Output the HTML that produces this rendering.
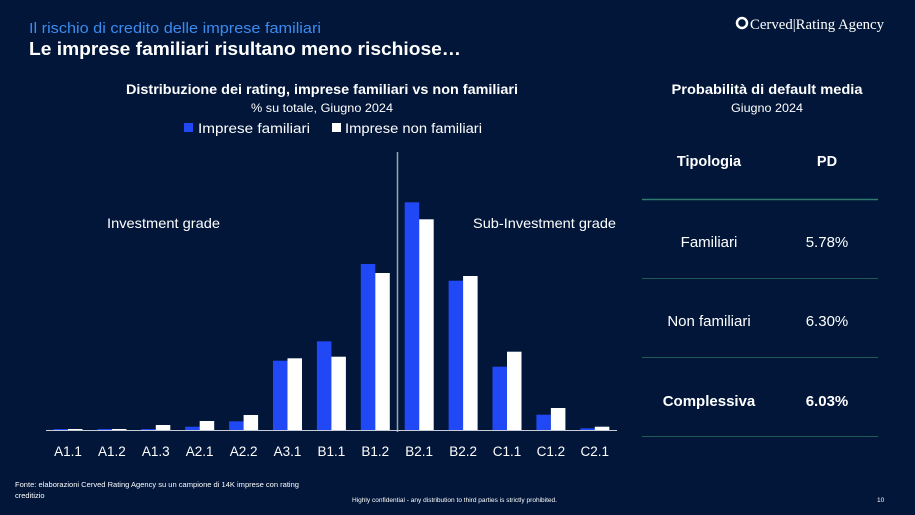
<!DOCTYPE html>
<html><head><meta charset="utf-8"><style>
html,body{margin:0;padding:0;background:#011639;}
svg{display:block}
text{font-family:"Liberation Sans",sans-serif;}
</style></head><body>
<svg width="915" height="515" viewBox="0 0 915 515" xmlns="http://www.w3.org/2000/svg">
<rect width="915" height="515" fill="#011639"/>
<text x="29" y="33" font-size="15" fill="#3b8cf0" textLength="292" lengthAdjust="spacingAndGlyphs">Il rischio di credito delle imprese familiari</text>
<text x="29" y="55" font-size="18" font-weight="bold" fill="#fff" textLength="432" lengthAdjust="spacingAndGlyphs">Le imprese familiari risultano meno rischiose…</text>
<circle cx="742" cy="23" r="5" fill="none" stroke="#fff" stroke-width="2.5"/>
<text x="750" y="29" font-size="15" fill="#fff" style="font-family:'Liberation Serif',serif" textLength="134" lengthAdjust="spacingAndGlyphs">Cerved|Rating Agency</text>

<text x="322" y="94" font-size="13.5" font-weight="bold" fill="#fff" text-anchor="middle" textLength="392" lengthAdjust="spacingAndGlyphs">Distribuzione dei rating, imprese familiari vs non familiari</text>
<text x="322" y="112" font-size="12" fill="#fff" text-anchor="middle" textLength="142" lengthAdjust="spacingAndGlyphs">% su totale, Giugno 2024</text>
<rect x="184" y="123" width="9" height="9" fill="#2148f5"/>
<text x="198" y="133" font-size="13.5" fill="#fff" textLength="112" lengthAdjust="spacingAndGlyphs">Imprese familiari</text>
<rect x="332" y="123" width="9" height="9" fill="#fff"/>
<text x="345" y="133" font-size="13.5" fill="#fff" textLength="137" lengthAdjust="spacingAndGlyphs">Imprese non familiari</text>

<text x="107" y="228" font-size="14" fill="#fff" textLength="113" lengthAdjust="spacingAndGlyphs">Investment grade</text>
<text x="473" y="228" font-size="14" fill="#fff" textLength="143" lengthAdjust="spacingAndGlyphs">Sub-Investment grade</text>

<line x1="397.5" y1="152" x2="397.5" y2="432" stroke="#9aa3b5" stroke-width="1.5"/>
<g id="bars">
<rect x="53.5" y="429" width="14.5" height="1" fill="#2148f5"/><rect x="68" y="429" width="14.5" height="1" fill="#fff"/>
<rect x="97.4" y="429" width="14.5" height="1" fill="#2148f5"/><rect x="111.9" y="429" width="14.5" height="1" fill="#fff"/>
<rect x="141.3" y="429" width="14.5" height="1" fill="#2148f5"/><rect x="155.8" y="425" width="14.5" height="5" fill="#fff"/>
<rect x="185.2" y="426.7" width="14.5" height="3.3" fill="#2148f5"/><rect x="199.7" y="421" width="14.5" height="9" fill="#fff"/>
<rect x="229.1" y="421.3" width="14.5" height="8.7" fill="#2148f5"/><rect x="243.6" y="415" width="14.5" height="15" fill="#fff"/>
<rect x="273" y="360.7" width="14.5" height="69.3" fill="#2148f5"/><rect x="287.5" y="358.3" width="14.5" height="71.7" fill="#fff"/>
<rect x="316.9" y="341.3" width="14.5" height="88.7" fill="#2148f5"/><rect x="331.4" y="356.7" width="14.5" height="73.3" fill="#fff"/>
<rect x="360.8" y="264" width="14.5" height="166" fill="#2148f5"/><rect x="375.3" y="273" width="14.5" height="157" fill="#fff"/>
<rect x="404.7" y="202.3" width="14.5" height="227.7" fill="#2148f5"/><rect x="419.2" y="219.3" width="14.5" height="210.7" fill="#fff"/>
<rect x="448.6" y="280.7" width="14.5" height="149.3" fill="#2148f5"/><rect x="463.1" y="276" width="14.5" height="154" fill="#fff"/>
<rect x="492.5" y="366.7" width="14.5" height="63.3" fill="#2148f5"/><rect x="507" y="351.7" width="14.5" height="78.3" fill="#fff"/>
<rect x="536.4" y="414.7" width="14.5" height="15.3" fill="#2148f5"/><rect x="550.9" y="408" width="14.5" height="22" fill="#fff"/>
<rect x="580.3" y="428.3" width="14.5" height="1.7" fill="#2148f5"/><rect x="594.8" y="426.7" width="14.5" height="3.3" fill="#fff"/>
</g>
<line x1="46" y1="430.5" x2="617" y2="430.5" stroke="#c8ccd6" stroke-width="1"/>
<g font-size="13.5" fill="#fff" text-anchor="middle">
<text x="68" y="456">A1.1</text><text x="111.9" y="456">A1.2</text><text x="155.8" y="456">A1.3</text>
<text x="199.7" y="456">A2.1</text><text x="243.6" y="456">A2.2</text><text x="287.5" y="456">A3.1</text>
<text x="331.4" y="456">B1.1</text><text x="375.3" y="456">B1.2</text><text x="419.2" y="456">B2.1</text>
<text x="463.1" y="456">B2.2</text><text x="507" y="456">C1.1</text><text x="550.9" y="456">C1.2</text>
<text x="594.8" y="456">C2.1</text>
</g>

<text x="767" y="94" font-size="14" font-weight="bold" fill="#fff" text-anchor="middle" textLength="191" lengthAdjust="spacingAndGlyphs">Probabilità di default media</text>
<text x="767" y="112" font-size="12" fill="#fff" text-anchor="middle" textLength="72" lengthAdjust="spacingAndGlyphs">Giugno 2024</text>
<g text-anchor="middle" fill="#fff">
<text x="709" y="166" font-size="14.5" font-weight="bold">Tipologia</text>
<text x="827" y="166" font-size="14.5" font-weight="bold">PD</text>
<text x="709" y="247" font-size="15">Familiari</text>
<text x="827" y="247" font-size="15">5.78%</text>
<text x="709" y="326" font-size="15">Non familiari</text>
<text x="827" y="326" font-size="15">6.30%</text>
<text x="709" y="406" font-size="15" font-weight="bold">Complessiva</text>
<text x="827" y="406" font-size="15" font-weight="bold">6.03%</text>
</g>
<line x1="642" y1="199.5" x2="878" y2="199.5" stroke="#2e7a6c" stroke-width="1.5"/>
<line x1="642" y1="278.5" x2="878" y2="278.5" stroke="#1f5a55" stroke-width="1"/>
<line x1="642" y1="357.5" x2="878" y2="357.5" stroke="#1f5a55" stroke-width="1"/>
<line x1="642" y1="436.5" x2="878" y2="436.5" stroke="#1f5a55" stroke-width="1"/>

<text x="15" y="487" font-size="7.5" fill="#fff" textLength="284" lengthAdjust="spacingAndGlyphs">Fonte: elaborazioni Cerved Rating Agency su un campione di 14K imprese con rating</text>
<text x="15" y="498" font-size="7.5" fill="#fff">creditizio</text>
<text x="352" y="502" font-size="6.5" fill="#fff" textLength="205" lengthAdjust="spacingAndGlyphs">Highly confidential  - any distribution to third parties is strictly prohibited.</text>
<text x="877" y="502" font-size="6.5" fill="#fff">10</text>
</svg>
</body></html>
